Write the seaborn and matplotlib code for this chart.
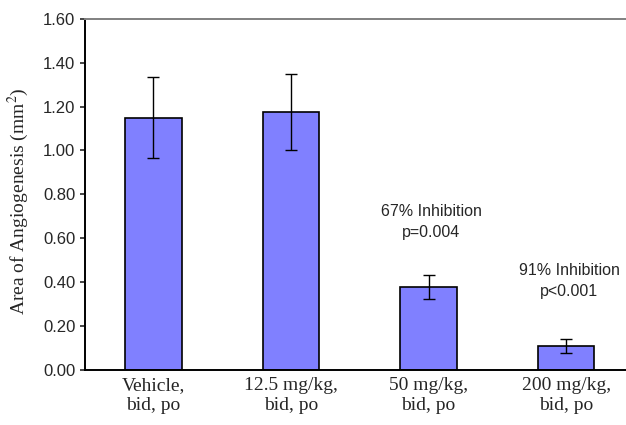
import matplotlib
matplotlib.use("Agg")
import matplotlib.pyplot as plt
import seaborn as sns
import pandas as pd

# data
groups = ["Vehicle,\nbid, po", "12.5 mg/kg,\nbid, po", "50 mg/kg,\nbid, po", "200 mg/kg,\nbid, po"]
area = [1.15, 1.175, 0.378, 0.108]
err = [0.186, 0.173, 0.055, 0.031]
notes = ["67% Inhibition\np=0.004", "91% Inhibition\np<0.001"]
note_groups = [2, 3]
note_y = [0.674, 0.405]
yticks = [0.0, 0.2, 0.4, 0.6, 0.8, 1.0, 1.2, 1.4, 1.6]

sns.set_style("white")
plt.rcParams["font.family"] = ["Liberation Sans", "DejaVu Sans"]
plt.rcParams["mathtext.fontset"] = "stix"

df = pd.DataFrame({"group": groups, "area": area})

fig = plt.figure(figsize=(6.26, 4.25), dpi=100)
ax = fig.add_axes([0.135, 0.1294, 0.8794, 0.8266])

sns.barplot(data=df, x="group", y="area", color="#8080FF", saturation=1,
            width=0.41, edgecolor="black", linewidth=1.2, errorbar=None, ax=ax)
ax.errorbar(range(len(groups)), area, yerr=err, fmt="none", ecolor="black",
            elinewidth=1.0, capsize=4, capthick=1.0)

for g, txt, yy in zip(note_groups, notes, note_y):
    ax.text(g + 0.02, yy, txt, ha="center", va="center", fontsize=11.5,
            linespacing=1.55, family=["Liberation Sans", "DejaVu Sans"])

ax.set_xlim(-0.5, 3.5)
ax.set_ylim(0, 1.6)
ax.set_yticks(yticks)
ax.set_yticklabels([f"{v:.2f}" for v in yticks], fontsize=12)
ax.set_xticks(range(len(groups)))
ax.set_xticklabels(groups, fontsize=14, family=["Liberation Serif", "DejaVu Serif"])
ax.tick_params(axis="x", length=0, pad=5)
ax.tick_params(axis="y", direction="out", length=3.5, width=1.2, pad=3, left=True)
ax.set_xlabel("")
ax.set_ylabel("Area of Angiogenesis (mm$^2$)", fontsize=14,
              family=["Liberation Serif", "DejaVu Serif"])
ax.yaxis.set_label_coords(-0.097, 0.48)

for s in ["left", "bottom"]:
    ax.spines[s].set_color("black")
    ax.spines[s].set_linewidth(1.4)
ax.spines["top"].set_color("#808080")
ax.spines["top"].set_linewidth(1.4)
ax.spines["right"].set_visible(False)

fig.savefig("out.png", dpi=100)
